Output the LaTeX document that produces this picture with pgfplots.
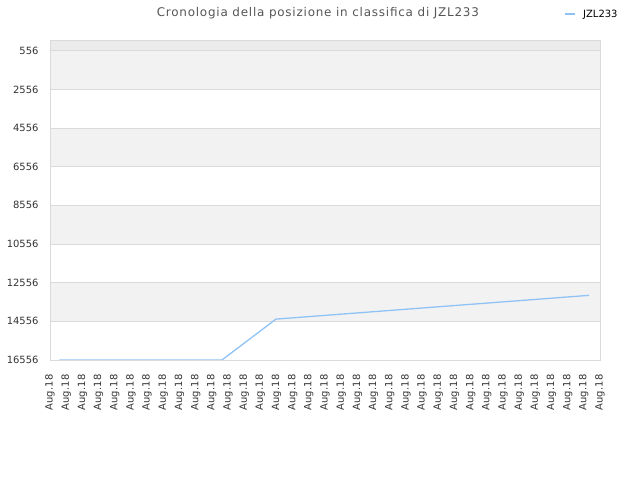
\documentclass[border=0pt]{standalone}
\usepackage{pgfplots}
\pgfplotsset{compat=1.18}
\usepackage{fontspec}
\setmainfont{DejaVu Sans}
\definecolor{linecol}{RGB}{144,195,245}
\definecolor{bandgray}{RGB}{242,242,242}
\definecolor{topgray}{RGB}{235,235,235}
\definecolor{gridgray}{RGB}{218,218,218}
\definecolor{textgray}{RGB}{85,85,85}
\definecolor{ticktext}{RGB}{51,51,51}

\pgfplotstableread{
x y
0.58 16556
10.63 16556
13.97 14440
33.33 13210
}\rankdata

\begin{document}
\begin{tikzpicture}
\begin{axis}[
    name=ax,
    set layers,
    scale only axis,
    width=550bp, height=320bp,
    xmin=0, xmax=34,
    ymin=0, ymax=16556,
    y dir=reverse,
    scaled x ticks=false,
    scaled y ticks=false,
    xtick={0,...,34},
    xticklabel={Aug.18},
    x tick label style={rotate=90, anchor=east, xshift=-11bp,
        font=\fontsize{10}{12}\selectfont\addfontfeature{LetterSpace=2}, color=ticktext},
    ytick={556,2556,4556,6556,8556,10556,12556,14556,16556},
    y tick label style={xshift=-8bp, font=\fontsize{10}{12}\selectfont, color=ticktext},
    /pgf/number format/assume math mode=true,
    /pgf/number format/set thousands separator={},
    major tick length=0pt,
    ymajorgrids,
    grid style={draw=gridgray, line width=0.8bp},
    axis line style={draw=gridgray, line width=0.8bp},
    title={Cronologia della posizione in classifica di JZL233},
    title style={at={(0.487,1.064)}, anchor=center, yshift=0pt,
        font=\fontsize{12}{14}\selectfont\addfontfeature{LetterSpace=6.5}, color=textgray},
    legend style={at={(0.934,1.081)}, anchor=west, draw=none, fill=none,
        font=\fontsize{10}{12}\selectfont, inner sep=0pt},
    legend image code/.code={\draw[#1] (0bp,0bp) -- (10bp,0bp); \path (16bp,0bp);},
]
\addplot[on layer=axis background, fill=topgray, draw=none, forget plot] coordinates {(0,0) (34,0) (34,556) (0,556)} -- cycle;
\addplot[on layer=axis background, fill=bandgray, draw=none, forget plot] coordinates {(0,556) (34,556) (34,2556) (0,2556)} -- cycle;
\addplot[on layer=axis background, fill=bandgray, draw=none, forget plot] coordinates {(0,4556) (34,4556) (34,6556) (0,6556)} -- cycle;
\addplot[on layer=axis background, fill=bandgray, draw=none, forget plot] coordinates {(0,8556) (34,8556) (34,10556) (0,10556)} -- cycle;
\addplot[on layer=axis background, fill=bandgray, draw=none, forget plot] coordinates {(0,12556) (34,12556) (34,14556) (0,14556)} -- cycle;
\addplot[linecol, line width=1.3bp, mark=none] table[x=x, y=y] {\rankdata};
\addlegendentry{JZL233}
\end{axis}
\path[use as bounding box] ([xshift=-50bp,yshift=-120bp]ax.south west) rectangle ([xshift=40bp,yshift=40bp]ax.north east);
\end{tikzpicture}
\end{document}
